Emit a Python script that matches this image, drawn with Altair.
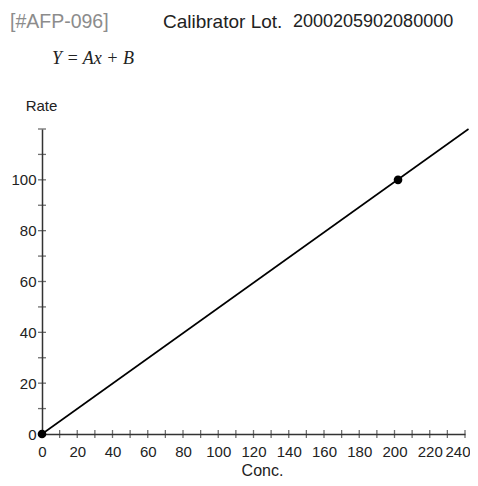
import altair as alt
import pandas as pd

# ---- data ----
cal_conc = [0, 202]          # calibrator points (Conc.)
cal_rate = [0, 100]          # calibrator points (Rate)
fit_conc = [0, 242]          # fitted line end points
fit_rate = [0, 120]
x_ticks = list(range(0, 250, 10))
x_labels = list(range(0, 250, 20))
y_ticks = list(range(0, 130, 10))
y_labels = list(range(0, 110, 20))
header_tag = "[#AFP-096]"
header_lot = "Calibrator Lot."
header_num = "2000205902080000"
equation = "Y = Ax + B"

FONT = "Liberation Sans"
AX = "#333333"

pts = pd.DataFrame({"conc": cal_conc, "rate": cal_rate})
fit = pd.DataFrame({"conc": fit_conc, "rate": fit_rate})
xt = pd.DataFrame({"conc": x_ticks, "rate": [0] * len(x_ticks)})
yt = pd.DataFrame({"conc": [0] * len(y_ticks), "rate": y_ticks})

xs = alt.Scale(domain=[0, 240], nice=False, zero=False)
ys = alt.Scale(domain=[0, 120], nice=False, zero=False)

xaxis = alt.Axis(values=x_labels, ticks=False, grid=False, domainColor=AX, domainWidth=1.5,
                 labelFont=FONT, labelFontSize=15, labelColor="#222", labelPadding=10,
                 labelOverlap=False, labelFlush=False, labelBound=False,
                 labelAlign=alt.condition("datum.value == 240", alt.value("right"),
                                          alt.value("center")),
                 labelOffset=alt.condition("datum.value == 240", alt.value(5), alt.value(0)),
                 title="Conc.", titleFont=FONT, titleFontSize=16, titleFontWeight="normal",
                 titleColor="#222", titleX=220, titleY=36, titleAlign="center",
                 titleBaseline="middle")
yaxis = alt.Axis(values=y_labels, ticks=False, grid=False, domainColor=AX, domainWidth=1.5,
                 labelFont=FONT, labelFontSize=15, labelColor="#222", labelPadding=6,
                 labelOverlap=False, labelFlush=False, labelBound=False,
                 title="Rate", titleFont=FONT, titleFontSize=15, titleFontWeight="normal",
                 titleColor="#222", titleAngle=0, titleX=-1, titleY=-24, titleAlign="center",
                 titleBaseline="middle")

X = alt.X("conc:Q", scale=xs, axis=xaxis)
Y = alt.Y("rate:Q", scale=ys, axis=yaxis)

line = alt.Chart(fit).mark_line(color="black", strokeWidth=1.6).encode(x=X, y=Y)
points = alt.Chart(pts).mark_point(filled=True, color="black", size=75, opacity=1).encode(
    x=X, y=Y)
xtick = alt.Chart(xt).mark_tick(color=AX, size=8, thickness=1.3, orient="vertical").encode(
    x=X, y=Y)
ytick = alt.Chart(yt).mark_tick(color=AX, size=8, thickness=1.3, orient="horizontal").encode(
    x=X, y=Y)


def label(txt, x, y, color="#222", font=FONT, size=18, style="normal"):
    return alt.Chart(pd.DataFrame({"t": [txt]})).mark_text(
        font=font, fontSize=size, fontStyle=style, color=color, align="left",
        baseline="middle").encode(text="t:N", x=alt.value(x), y=alt.value(y))


t1 = label(header_tag, -32, -107, color="#8c8c8c", size=19.5)
t2 = label(header_lot, 121, -107, size=19)
t3 = label(header_num, 251, -107, size=18)
t4 = label(equation, 10, -70, font="Liberation Serif", size=18, style="italic")

chart = alt.layer(line, xtick, ytick, points, t1, t2, t3, t4).properties(
    width=423, height=305,
    autosize=alt.AutoSizeParams(type="none"),
    padding={"left": 34, "top": 121, "right": 5, "bottom": 44},
    background="white",
).configure_view(stroke=None).configure_axis(labelOverlap=False)

chart.save("out.html", embed_options={"renderer": "svg", "actions": False})
